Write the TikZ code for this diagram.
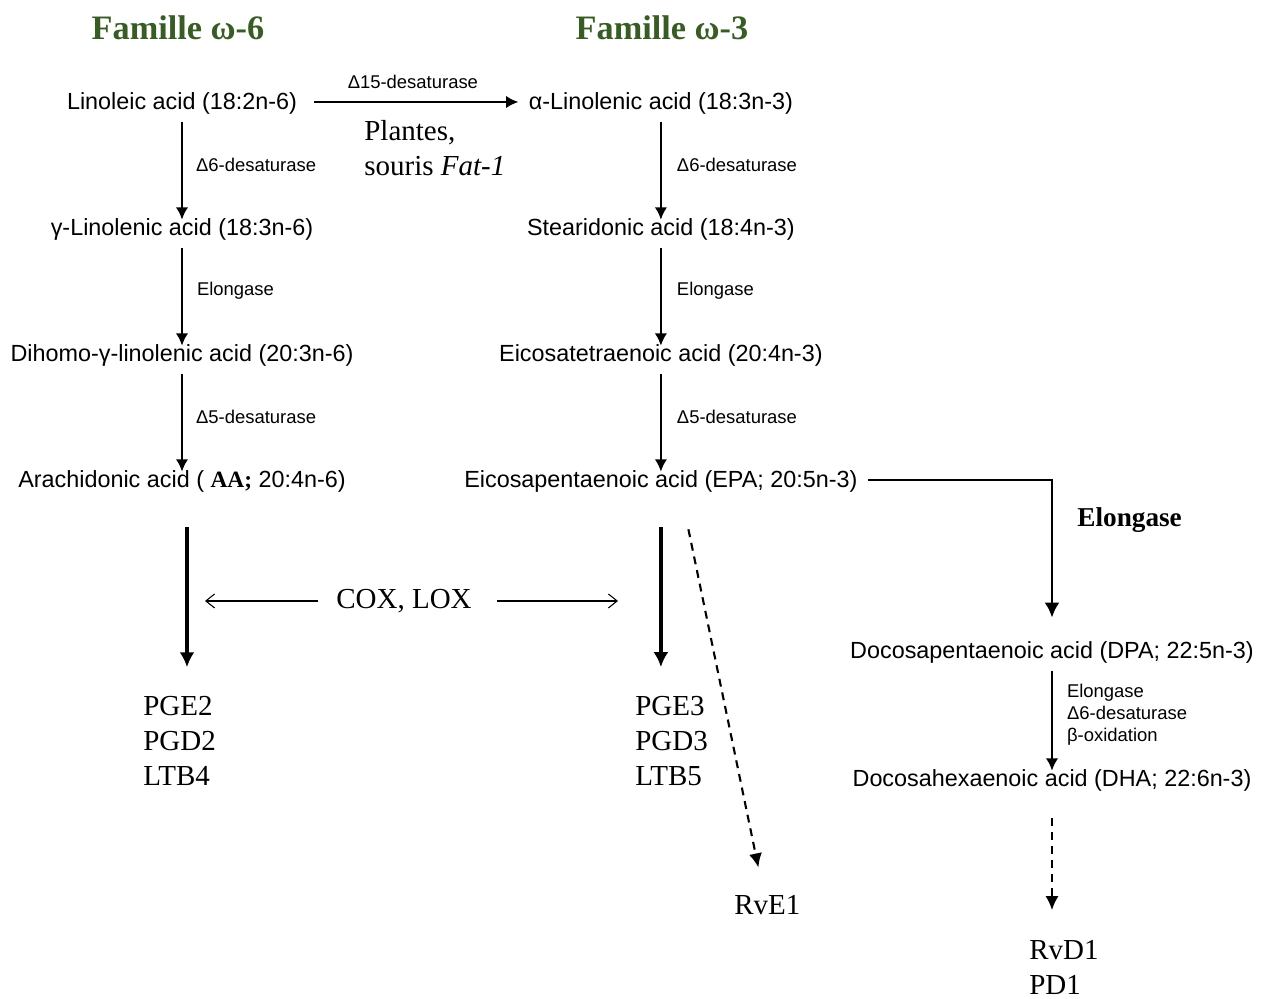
\documentclass[tikz,border=0pt]{standalone}
\usepackage{fontspec}
\setmainfont{Liberation Serif}
\setsansfont{Liberation Sans}
\usetikzlibrary{arrows.meta,positioning,calc}
\definecolor{famgreen}{RGB}{55,93,36}
\tikzset{family/.style={font=\fontsize{19.5}{23}\selectfont\bfseries, text=famgreen}}
\tikzset{acid/.style={font=\sffamily\fontsize{13.3}{16}\selectfont, inner sep=0pt, text height=10.5pt, text depth=1.5pt}}
\tikzset{enzyme/.style={font=\sffamily\fontsize{10.5}{12.5}\selectfont, inner sep=0pt, align=left}}
\tikzset{product/.style={font=\fontsize{16.5}{19.8}\selectfont, inner sep=0pt, align=left, anchor=west}}
\tikzset{conv/.style={draw, line width=1.2pt, -{Latex[length=7pt,width=7pt]}, shorten <=5pt, shorten >=-1.5pt}}
\tikzset{major/.style={draw, line width=1.9pt, -{Latex[length=8.5pt,width=8.5pt]}}}
\tikzset{minor/.style={draw, line width=1.2pt, dash pattern=on 4.5pt off 3.4pt, -{Latex[length=8pt,width=7.5pt]}}}
\tikzset{enzline/.style={draw, line width=0.6pt, -{Straight Barb[length=5pt,width=8pt]}}}

\begin{document}
\begin{tikzpicture}[x=0.02cm, y=-0.02cm, node distance=2.52cm]
        \useasboundingbox (0,0) rectangle (1269,999);
        \node[family] (om6) at (178,28) {Famille ω-6};
        \node[family] (om3) at (662,28) {Famille ω-3};

        \node[acid] (la) at (182,102) {Linoleic acid (18:2n-6)};
        \node[acid, below of=la] (gla) {γ-Linolenic acid (18:3n-6)};
        \node[acid, below of=gla] (dgla) {Dihomo-γ-linolenic acid (20:3n-6)};
        \node[acid, below of=dgla] (aa) {Arachidonic acid ( {\rmfamily\bfseries AA;} 20:4n-6)};

        \node[acid, right of=la, node distance=9.58cm] (ala) {α-Linolenic acid (18:3n-3)};
        \node[acid, below of=ala] (sda) {Stearidonic acid (18:4n-3)};
        \node[acid, below of=sda] (eta) {Eicosatetraenoic acid (20:4n-3)};
        \node[acid, below of=eta] (epa) {Eicosapentaenoic acid (EPA; 20:5n-3)};

        \node[acid] (dpa) at (1052,651) {Docosapentaenoic acid (DPA; 22:5n-3)};
        \node[acid, below of=dpa, node distance=2.56cm] (dha) {Docosahexaenoic acid (DHA; 22:6n-3)};

        \node[product] (host) at (364,148) {Plantes,\\souris \textit{Fat-1}};
        \node[product] (cox) at (336,601) {COX, LOX};
        \node[product] (pg2) at (143,741) {PGE2\\PGD2\\LTB4};
        \node[product] (pg3) at (635,741) {PGE3\\PGD3\\LTB5};
        \node[product] (rve) at (734,905) {RvE1};
        \node[product] (rvd) at (1029,967.5) {RvD1\\PD1};
        \coordinate (tol) at (205,601);
        \coordinate (tor) at (618,601);

        \path[conv, shorten <=9.6pt, shorten >=5.7pt] (la) -- node[enzyme, above=0.24cm] {Δ15-desaturase} (ala);
        \path[conv] (la) -- node[enzyme, right=0.26cm] {Δ6-desaturase} (gla);
        \path[conv] (gla) -- node[enzyme, right=0.28cm] {Elongase} (dgla);
        \path[conv] (dgla) -- node[enzyme, right=0.26cm] {Δ5-desaturase} (aa);
        \path[conv] (ala) -- node[enzyme, right=0.3cm] {Δ6-desaturase} (sda);
        \path[conv] (sda) -- node[enzyme, right=0.3cm] {Elongase} (eta);
        \path[conv] (eta) -- node[enzyme, right=0.3cm] {Δ5-desaturase} (epa);
        \path[conv] (dpa) -- node[enzyme, right=0.28cm] {Elongase\\Δ6-desaturase\\β-oxidation} (dha);

        \draw[enzline, shorten <=0.36cm] (cox.west) -- (tol);
        \draw[enzline, shorten <=0.5cm] (cox.east) -- (tor);
        \draw[major, shorten <=0.73cm, shorten >=0.58cm] ([xshift=0.1cm]aa.south) -- ([xshift=0.1cm]aa.south |- pg2.north);
        \draw[major, shorten <=0.73cm, shorten >=0.58cm] (epa.south) -- (epa.south |- pg3.north);
        \draw[minor] ($(epa.south)+(0.55cm,-0.77cm)$) -- ($(rve.north)+(-0.18cm,0.55cm)$);
        \draw[major, line width=1.6pt, shorten <=0.2cm, shorten >=0.45cm] (epa.east) -| node[pos=0.625, right=0.48cm, inner sep=0pt, font=\fontsize{15.5}{18}\selectfont\bfseries] {Elongase} (dpa.north);
        \draw[minor, shorten <=0.57cm, shorten >=0.6cm] (dha.south) -- (dha.south |- rvd.north);
     \end{tikzpicture}
\end{document}
